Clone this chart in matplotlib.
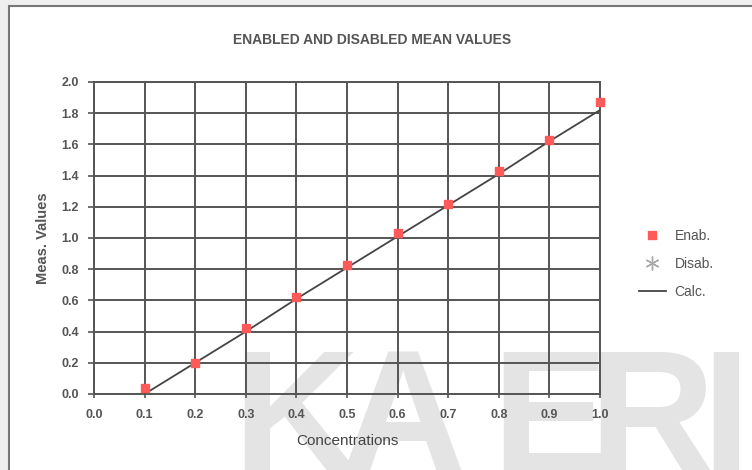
import matplotlib.pyplot as plt
import matplotlib.patches as mpatches

## Data
conc = [0.1, 0.2, 0.3, 0.4, 0.5, 0.6, 0.7, 0.8, 0.9, 1.0]
enab = [0.04, 0.20, 0.42, 0.62, 0.83, 1.03, 1.22, 1.43, 1.63, 1.87]
disab_x = []
disab_y = []
calc = [0.0, 0.20, 0.40, 0.61, 0.81, 1.01, 1.21, 1.41, 1.62, 1.82]

xticks = [0.0, 0.1, 0.2, 0.3, 0.4, 0.5, 0.6, 0.7, 0.8, 0.9, 1.0]
yticks = [0.0, 0.2, 0.4, 0.6, 0.8, 1.0, 1.2, 1.4, 1.6, 1.8, 2.0]

# watermark letters and where each one starts (pixels from left)
wm_letters = ["K", "A", "E", "R", "I"]
wm_left = [232, 340, 491, 588, 701]

plt.rcParams["font.family"] = ["Liberation Sans", "DejaVu Sans"]

fig = plt.figure(figsize=(7.52, 4.70), dpi=100)
fig.patch.set_facecolor("#efefef")

# page frame
frame = mpatches.Rectangle((9 / 752, -0.05), 1.0, 1.05 - 6 / 470,
                           transform=fig.transFigure, facecolor="white",
                           edgecolor="#777777", linewidth=1.5, zorder=-2)
fig.patches.append(frame)

# watermark, one letter at a time (the original font is condensed)
for ch, xl in zip(wm_letters, wm_left):
    fig.text(xl / 752, -2 / 470, ch, fontsize=126, fontweight="bold",
             color="#e4e4e4", ha="left", va="baseline", zorder=-1)

ax = fig.add_axes([94 / 752, 76 / 470, 506 / 752, 312 / 470])
ax.set_facecolor("none")
ax.set_zorder(1)

ax.plot(conc, calc, color="#444444", linewidth=1.3, label="Calc.", zorder=3)
ax.plot(disab_x, disab_y, linestyle="none", marker=(6, 2, 0), markersize=10,
        color="#aaaaaa", label="Disab.", zorder=4)
ax.plot(conc, enab, linestyle="none", marker="s", markersize=6,
        color="#ff5a5a", label="Enab.", zorder=5, clip_on=False)

ax.set_xlim(0, 1.0)
ax.set_ylim(0, 2.0)
ax.set_xticks(xticks)
ax.set_yticks(yticks)
ax.set_xticklabels(["%.1f" % v for v in xticks])
ax.set_yticklabels(["%.1f" % v for v in yticks])
ax.grid(True, color="#555555", linewidth=1.4)
ax.set_axisbelow(True)
for s in ax.spines.values():
    s.set_color("#555555")
    s.set_linewidth(1.4)
ax.tick_params(axis="both", direction="out", length=4, width=1.2,
               color="#555555", labelsize=9, labelcolor="#555555")
ax.tick_params(axis="y", pad=7)
ax.tick_params(axis="x", direction="inout", length=6, pad=8)
for lab in ax.get_xticklabels() + ax.get_yticklabels():
    lab.set_fontweight("bold")

ax.set_xlabel("Concentrations", fontsize=11, color="#444444", labelpad=9)
ax.set_ylabel("Meas. Values", fontsize=10.5, color="#555555", fontweight="bold",
              labelpad=8)
fig.text(372 / 752, 1 - 40 / 470, "ENABLED AND DISABLED MEAN VALUES",
         ha="center", va="center", fontsize=10, fontweight="bold", color="#555555")

h, l = ax.get_legend_handles_labels()
order = [2, 1, 0]
leg = fig.legend([h[i] for i in order], [l[i] for i in order],
                 loc="center left", bbox_to_anchor=(626 / 752, 1 - 264 / 470),
                 frameon=False, fontsize=10, labelcolor="#555555",
                 handlelength=2.0, handletextpad=0.6, labelspacing=1.0)
leg.set_zorder(2)

fig.savefig("out.png", dpi=100, facecolor=fig.get_facecolor())
